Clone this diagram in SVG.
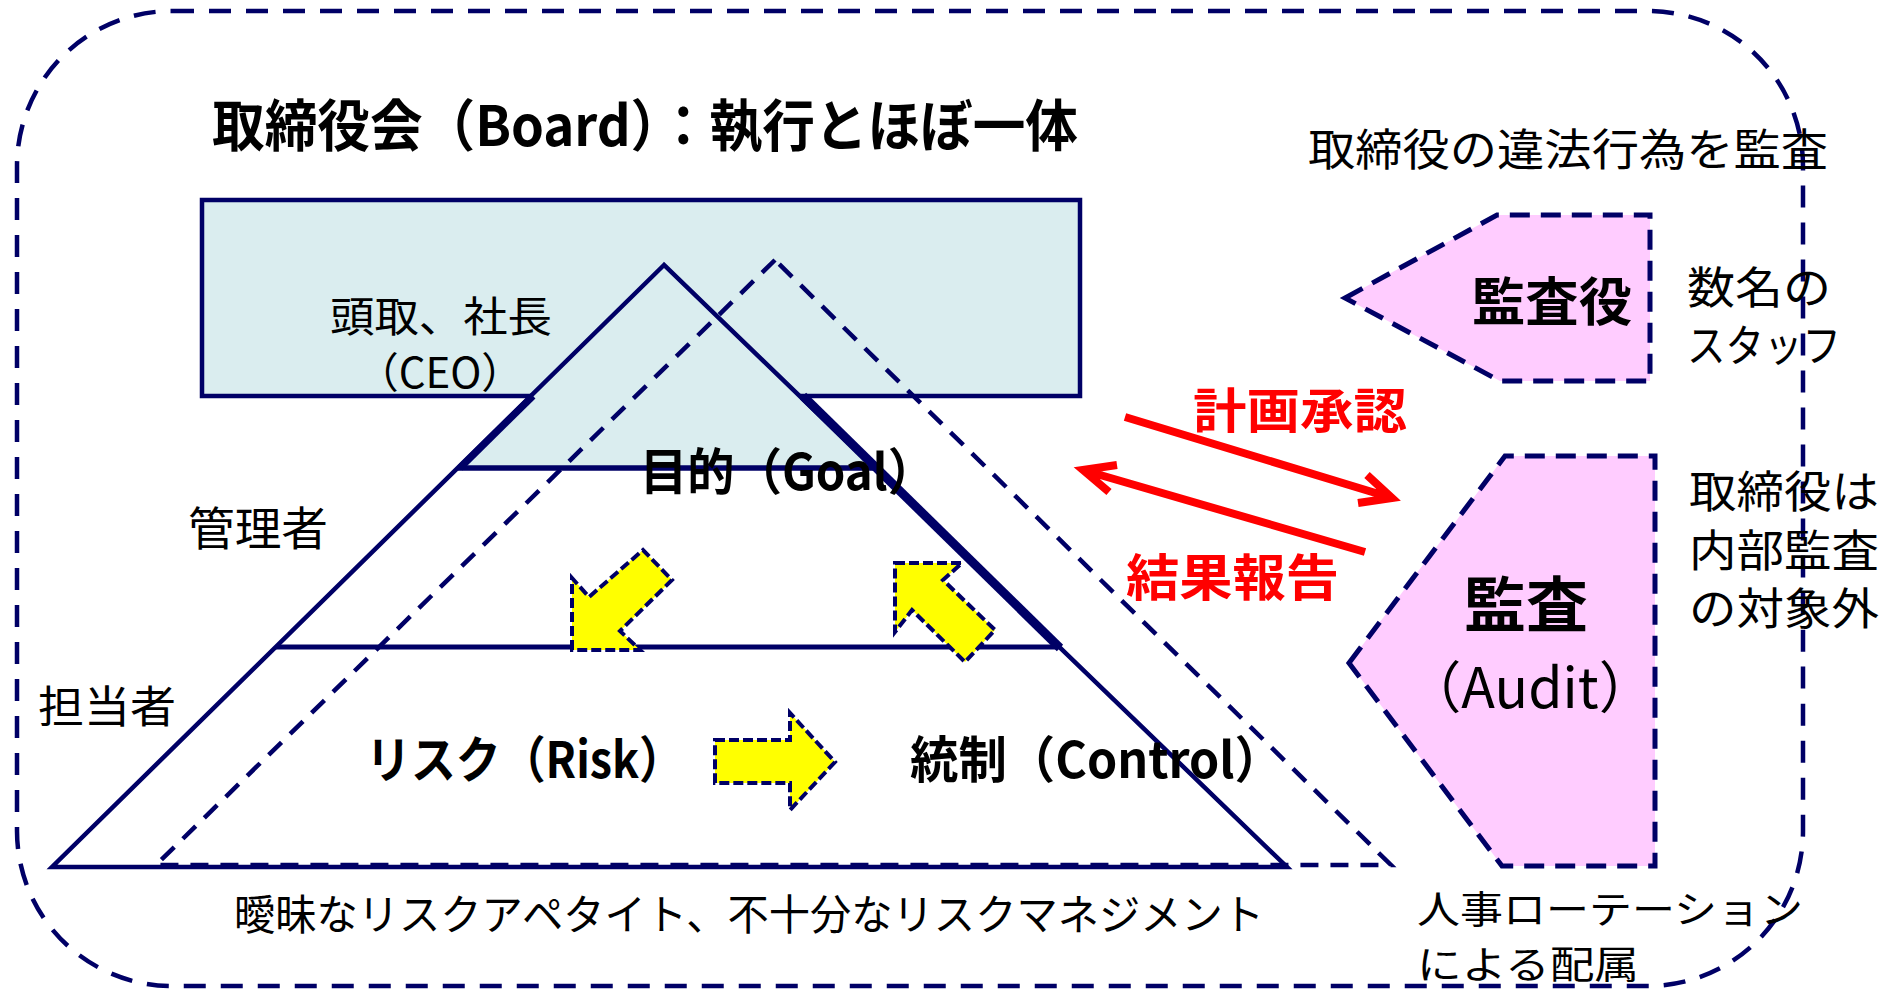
<svg xmlns="http://www.w3.org/2000/svg" width="1899" height="990" viewBox="0 0 1899 990">
<style>
  text { font-family: "Noto Sans CJK JP", "Noto Sans", sans-serif; fill: #000; }
  .b { font-weight: bold; }
  .red { fill: #FF0000; font-weight: bold; }
  .navy { stroke: #000066; fill: none; }
  .dash { stroke: #000066; fill: none; stroke-width: 4.5; stroke-dasharray: 18 12; }
  .yarrow { fill: #FFFF00; stroke: #000066; stroke-width: 4; stroke-dasharray: 10 4; }
  .pent { fill: #FFCCFF; stroke: #000066; stroke-width: 5; stroke-dasharray: 20 11; }
  .conn { stroke: #FF0000; stroke-width: 8; fill: none; }
</style>
<rect width="1899" height="990" fill="#ffffff"/>

<!-- outer dashed boundary -->
<g id="outer">
  <rect x="17" y="11" width="1786" height="975" rx="155" ry="155" fill="none" stroke="#000066" stroke-width="4.5" stroke-dasharray="22 15"/>
</g>

<!-- Board -->
<g id="board">
  <rect x="202" y="200" width="878" height="196" fill="#DAEDEF" stroke="#000066" stroke-width="4.5"/>
  <text x="212" y="146" font-size="56" class="b" textLength="866" lengthAdjust="spacingAndGlyphs">取締役会（Board）：執行とほぼ一体</text>
  <text x="330" y="332" font-size="42" textLength="222" lengthAdjust="spacingAndGlyphs">頭取、社長</text>
  <text x="440" y="388" font-size="42" text-anchor="middle">（CEO）</text>
</g>

<!-- pyramid -->
<g id="pyramid">
  <polygon points="664,265 458,468 875,468" fill="#DAEDEF"/>
  <polygon class="dash" points="775,260 156,865 1391,865"/>
  <polygon class="navy" stroke-width="4.5" stroke-linejoin="miter" points="664,265 52,867 1287,867"/>
  <line class="navy" x1="458" y1="468" x2="875" y2="468" stroke-width="5.5"/>
  <line class="navy" x1="276" y1="647" x2="1058" y2="647" stroke-width="5"/>
  <line class="navy" x1="533" y1="396" x2="460" y2="468" stroke-width="7"/>
  <line class="navy" x1="803" y1="396" x2="1060" y2="648" stroke-width="9"/>
</g>

<g id="label-managers">
  <text x="188" y="545" font-size="46" textLength="140" lengthAdjust="spacingAndGlyphs">管理者</text>
</g>
<g id="label-staff">
  <text x="38" y="723" font-size="44" textLength="138" lengthAdjust="spacingAndGlyphs">担当者</text>
</g>
<g id="goal">
  <text x="640" y="490" font-size="50" class="b" textLength="295" lengthAdjust="spacingAndGlyphs">目的（Goal）</text>
</g>
<g id="risk">
  <text x="366" y="778" font-size="50" class="b" textLength="318" lengthAdjust="spacingAndGlyphs">リスク（Risk）</text>
</g>
<g id="control">
  <text x="910" y="778" font-size="50" class="b" textLength="373" lengthAdjust="spacingAndGlyphs">統制（Control）</text>
</g>

<!-- yellow arrows -->
<g id="yellow-arrows">
  <polygon class="yarrow" points="572,650 572,578 589,597 643,550 672,580 620,631 640,650"/>
  <polygon class="yarrow" points="895,563 962,563 943,580 995,630 965,662 912,610 895,632"/>
  <polygon class="yarrow" points="715,740 790,740 790,713 835,762 790,810 790,783 715,783"/>
</g>

<!-- auditors (kansayaku) -->
<g id="kansayaku">
  <polygon class="pent" points="1345,298 1497,215 1650,215 1650,381 1500,381"/>
  <text x="1472" y="321" font-size="52" class="b" textLength="160" lengthAdjust="spacingAndGlyphs">監査役</text>
  <text x="1308" y="166" font-size="44" textLength="520" lengthAdjust="spacingAndGlyphs">取締役の違法行為を監査</text>
  <text x="1687" y="304" font-size="44" textLength="144" lengthAdjust="spacingAndGlyphs">数名の</text>
  <text x="1687" y="362" font-size="44" textLength="154" lengthAdjust="spacingAndGlyphs">スタッフ</text>
</g>

<!-- internal audit -->
<g id="audit">
  <polygon class="pent" points="1349,663 1505,456 1655,456 1655,866 1502,866"/>
  <text x="1464" y="627" font-size="60" class="b" textLength="124" lengthAdjust="spacingAndGlyphs">監査</text>
  <text x="1530" y="708" font-size="56" text-anchor="middle" textLength="248" lengthAdjust="spacingAndGlyphs">（Audit）</text>
  <text x="1689" y="508" font-size="44" textLength="190" lengthAdjust="spacingAndGlyphs">取締役は</text>
  <text x="1689" y="567" font-size="44" textLength="190" lengthAdjust="spacingAndGlyphs">内部監査</text>
  <text x="1689" y="625" font-size="44" textLength="190" lengthAdjust="spacingAndGlyphs">の対象外</text>
</g>

<!-- connectors -->
<g id="connectors">
  <path class="conn" d="M1125,417 L1392,498 M1367,475 L1392,498 L1358,503"/>
  <path class="conn" d="M1365,552 L1083,470 M1117,465 L1083,470 L1109,492"/>
  <text x="1193" y="428" font-size="48" class="red" textLength="214" lengthAdjust="spacingAndGlyphs">計画承認</text>
  <text x="1126" y="596" font-size="50" class="red" textLength="213" lengthAdjust="spacingAndGlyphs">結果報告</text>
</g>

<!-- bottom notes -->
<g id="note-appetite">
  <text x="234" y="930" font-size="42" textLength="1030" lengthAdjust="spacingAndGlyphs">曖昧なリスクアペタイト、不十分なリスクマネジメント</text>
</g>
<g id="note-rotation">
  <text x="1417" y="923" font-size="38" textLength="386" lengthAdjust="spacingAndGlyphs">人事ローテーション</text>
  <text x="1417" y="978" font-size="38" textLength="222" lengthAdjust="spacingAndGlyphs">による配属</text>
</g>
</svg>
